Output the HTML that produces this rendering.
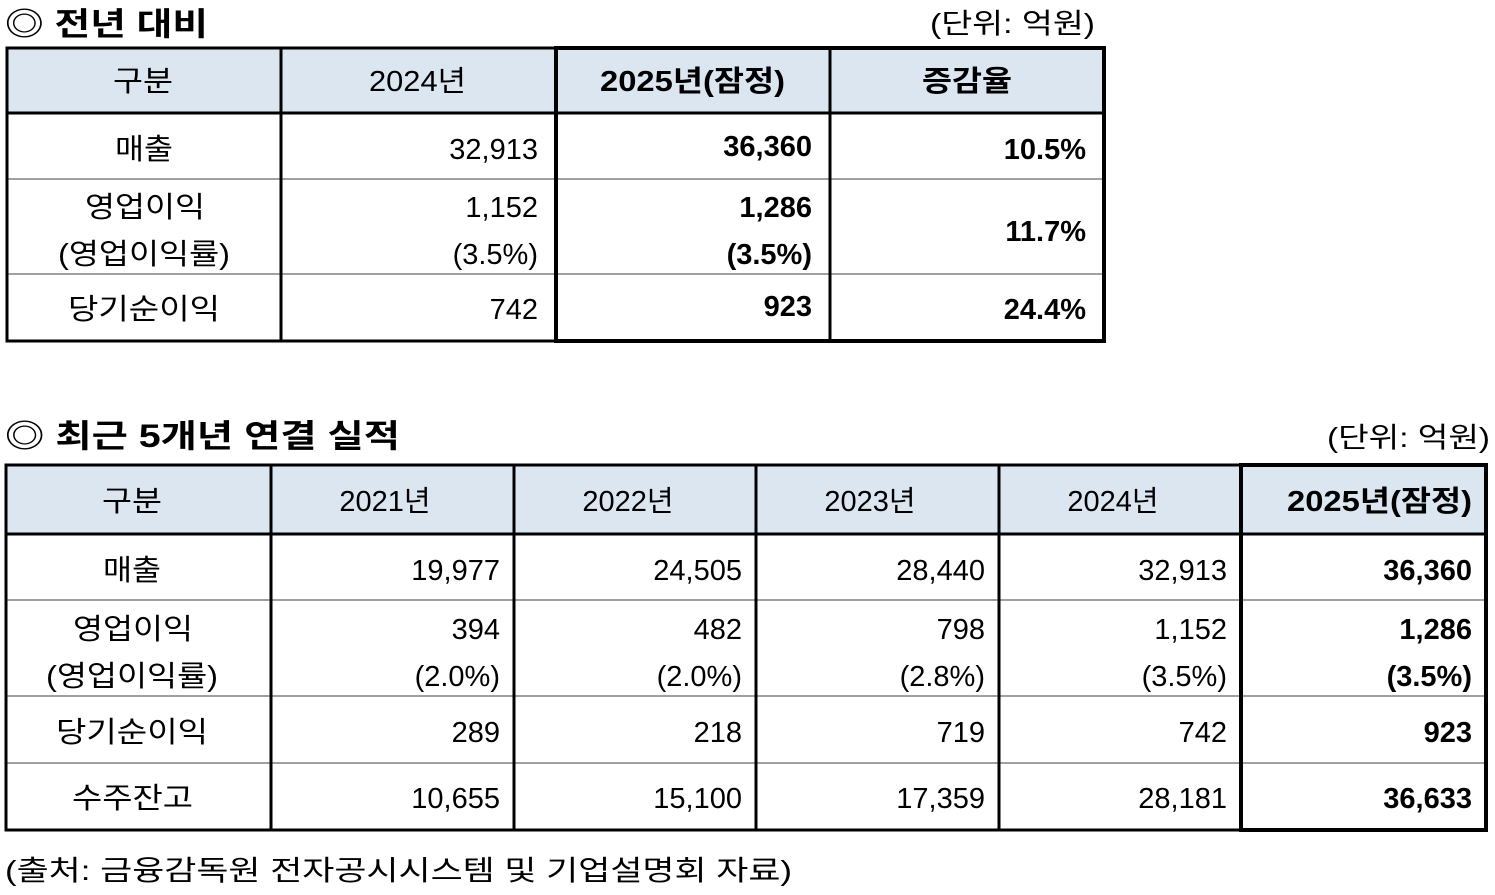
<!DOCTYPE html>
<html><head><meta charset="utf-8"><style>
html,body{margin:0;padding:0;background:#fff;}
svg text{font-family:"Liberation Sans","Noto Sans CJK KR","NanumGothic",sans-serif;fill:#000;}
.b{font-weight:bold}
</style></head><body>
<svg width="1495" height="890" viewBox="0 0 1495 890" xmlns="http://www.w3.org/2000/svg">
<text x="5" y="35" font-size="32" class="b" textLength="203" lengthAdjust="spacingAndGlyphs">◎ 전년 대비</text>
<text x="930" y="33" font-size="28" textLength="165" lengthAdjust="spacingAndGlyphs">(단위: 억원)</text>
<rect x="7" y="48" width="1097" height="65" fill="#dce6f1"/>
<g stroke="#808080" stroke-width="1.5">
<line x1="7" y1="179" x2="1104" y2="179"/>
<line x1="7" y1="274" x2="1104" y2="274"/>
</g>
<g stroke="#000" stroke-width="3" fill="none">
<rect x="7" y="48" width="1097" height="293"/>
<line x1="7" y1="113" x2="1104" y2="113"/>
<line x1="281" y1="48" x2="281" y2="341"/>
<line x1="830" y1="48" x2="830" y2="341"/>
</g>
<rect x="556" y="48" width="548" height="293" fill="none" stroke="#000" stroke-width="4"/>
<g font-size="29">
<text x="113" y="91" textLength="60" lengthAdjust="spacingAndGlyphs">구분</text>
<text x="369" y="91" textLength="97" lengthAdjust="spacingAndGlyphs">2024년</text>
<text x="600" y="91" class="b" textLength="185" lengthAdjust="spacingAndGlyphs">2025년(잠정)</text>
<text x="922" y="91" class="b" textLength="90" lengthAdjust="spacingAndGlyphs">증감율</text>
<text x="115" y="159" textLength="58" lengthAdjust="spacingAndGlyphs">매출</text>
<text x="538" y="159" text-anchor="end">32,913</text>
<text x="812" y="156" text-anchor="end" class="b">36,360</text>
<text x="1086" y="159" text-anchor="end" class="b">10.5%</text>
<text x="85" y="217" textLength="120" lengthAdjust="spacingAndGlyphs">영업이익</text>
<text x="58" y="264" textLength="172" lengthAdjust="spacingAndGlyphs">(영업이익률)</text>
<text x="538" y="217" text-anchor="end">1,152</text>
<text x="538" y="264" text-anchor="end">(3.5%)</text>
<text x="812" y="217" text-anchor="end" class="b">1,286</text>
<text x="812" y="264" text-anchor="end" class="b">(3.5%)</text>
<text x="1086" y="241" text-anchor="end" class="b">11.7%</text>
<text x="68" y="319" textLength="152" lengthAdjust="spacingAndGlyphs">당기순이익</text>
<text x="538" y="319" text-anchor="end">742</text>
<text x="812" y="316" text-anchor="end" class="b">923</text>
<text x="1086" y="319" text-anchor="end" class="b">24.4%</text>
</g>
<text x="5" y="447" font-size="32" class="b" textLength="395" lengthAdjust="spacingAndGlyphs">◎ 최근 5개년 연결 실적</text>
<text x="1327" y="447" font-size="28" textLength="163" lengthAdjust="spacingAndGlyphs">(단위: 억원)</text>
<rect x="6" y="465" width="1480" height="69" fill="#dce6f1"/>
<g stroke="#808080" stroke-width="1.5">
<line x1="6" y1="600" x2="1486" y2="600"/>
<line x1="6" y1="696" x2="1486" y2="696"/>
<line x1="6" y1="763" x2="1486" y2="763"/>
</g>
<g stroke="#000" stroke-width="3" fill="none">
<rect x="6" y="465" width="1480" height="365"/>
<line x1="6" y1="534" x2="1486" y2="534"/>
<line x1="271" y1="465" x2="271" y2="830"/>
<line x1="514" y1="465" x2="514" y2="830"/>
<line x1="756" y1="465" x2="756" y2="830"/>
<line x1="999" y1="465" x2="999" y2="830"/>
</g>
<rect x="1241" y="465" width="245" height="365" fill="none" stroke="#000" stroke-width="4"/>
<g font-size="29">
<text x="102" y="511" textLength="60" lengthAdjust="spacingAndGlyphs">구분</text>
<text x="385" y="511" text-anchor="middle">2021년</text>
<text x="628" y="511" text-anchor="middle">2022년</text>
<text x="870" y="511" text-anchor="middle">2023년</text>
<text x="1113" y="511" text-anchor="middle">2024년</text>
<text x="1287" y="511" class="b" textLength="185" lengthAdjust="spacingAndGlyphs">2025년(잠정)</text>

<text x="103" y="580" textLength="58" lengthAdjust="spacingAndGlyphs">매출</text>
<text x="500" y="580" text-anchor="end">19,977</text>
<text x="742" y="580" text-anchor="end">24,505</text>
<text x="985" y="580" text-anchor="end">28,440</text>
<text x="1227" y="580" text-anchor="end">32,913</text>
<text x="1472" y="580" text-anchor="end" class="b">36,360</text>

<text x="73" y="639" textLength="120" lengthAdjust="spacingAndGlyphs">영업이익</text>
<text x="46" y="686" textLength="172" lengthAdjust="spacingAndGlyphs">(영업이익률)</text>
<text x="500" y="639" text-anchor="end">394</text>
<text x="742" y="639" text-anchor="end">482</text>
<text x="985" y="639" text-anchor="end">798</text>
<text x="1227" y="639" text-anchor="end">1,152</text>
<text x="1472" y="639" text-anchor="end" class="b">1,286</text>
<text x="500" y="686" text-anchor="end">(2.0%)</text>
<text x="742" y="686" text-anchor="end">(2.0%)</text>
<text x="985" y="686" text-anchor="end">(2.8%)</text>
<text x="1227" y="686" text-anchor="end">(3.5%)</text>
<text x="1472" y="686" text-anchor="end" class="b">(3.5%)</text>

<text x="56" y="742" textLength="152" lengthAdjust="spacingAndGlyphs">당기순이익</text>
<text x="500" y="742" text-anchor="end">289</text>
<text x="742" y="742" text-anchor="end">218</text>
<text x="985" y="742" text-anchor="end">719</text>
<text x="1227" y="742" text-anchor="end">742</text>
<text x="1472" y="742" text-anchor="end" class="b">923</text>

<text x="72" y="808" textLength="121" lengthAdjust="spacingAndGlyphs">수주잔고</text>
<text x="500" y="808" text-anchor="end">10,655</text>
<text x="742" y="808" text-anchor="end">15,100</text>
<text x="985" y="808" text-anchor="end">17,359</text>
<text x="1227" y="808" text-anchor="end">28,181</text>
<text x="1472" y="808" text-anchor="end" class="b">36,633</text>
</g>
<text x="5" y="880" font-size="28" textLength="787" lengthAdjust="spacingAndGlyphs">(출처: 금융감독원 전자공시시스템 및 기업설명회 자료)</text>
</svg>
</body></html>
